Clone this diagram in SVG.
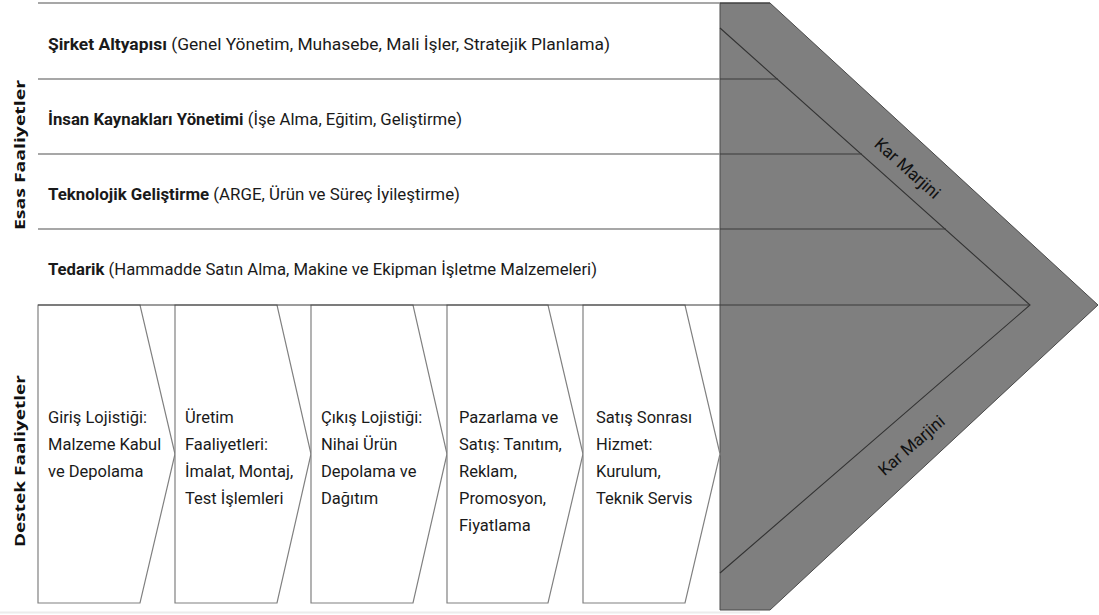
<svg xmlns="http://www.w3.org/2000/svg" width="1099" height="615" viewBox="0 0 1099 615">
  <style>
    .txt { font-family: Roboto, "Open Sans", "Liberation Sans", sans-serif; font-size: 17px; fill: #1a1a1a; }
    .step { font-family: Roboto, "Open Sans", "Liberation Sans", sans-serif; font-size: 16.5px; fill: #1a1a1a; }
    .b { font-weight: bold; }
    .side { font-family: "Open Sans", "DejaVu Sans", sans-serif; font-size: 15px; font-weight: bold; fill: #111; }
    .sep { stroke: #8a8a8a; stroke-width: 1.5; fill: none; }
    .sepd { stroke: #3a3a3a; stroke-width: 1.2; fill: none; }
    .chev { fill: #ffffff; stroke: #808080; stroke-width: 1.2; }
    .margin { fill: #7f7f7f; stroke: #4a4a4a; stroke-width: 1; }
    .inner { stroke: #333333; stroke-width: 1.1; fill: none; }
    .km { font-family: Roboto, "Open Sans", "Liberation Sans", sans-serif; font-size: 17px; fill: #111; }
  </style>

  <rect width="1099" height="615" fill="#ffffff"/>
  <!-- faint page edge under the figure -->
  <line x1="0" y1="612.5" x2="760" y2="612.5" stroke="#ececec" stroke-width="2"/>

  <!-- profit margin block -->
  <g id="kar-marjini">
    <polygon class="margin" points="720,3 770,3 1098,305 770,610 720,610"/>
    <polyline class="inner" points="720,28 1030,305 720,573"/>
    <text class="km" text-anchor="middle" transform="translate(907,169) rotate(41.8)" dy="5">Kar Marjini</text>
    <text class="km" text-anchor="middle" transform="translate(912,446) rotate(-40.8)" dy="5">Kar Marjini</text>
  </g>

  <!-- row separators -->
  <g id="connectors">
    <line class="sep" x1="38" y1="3" x2="720" y2="3"/>
    <line class="sepd" x1="720" y1="3" x2="770" y2="3"/>
    <line class="sep" x1="38" y1="79" x2="720" y2="79"/>
    <line class="sepd" x1="720" y1="79" x2="778" y2="79"/>
    <line class="sep" x1="38" y1="154" x2="720" y2="154"/>
    <line class="sepd" x1="720" y1="154" x2="862" y2="154"/>
    <line class="sep" x1="38" y1="229" x2="720" y2="229"/>
    <line class="sepd" x1="720" y1="229" x2="946" y2="229"/>
  </g>

  <!-- side labels -->
  <g id="esas-faaliyetler">
    <text class="side" text-anchor="middle" transform="translate(25,155) rotate(-90)" textLength="150" lengthAdjust="spacingAndGlyphs">Esas Faaliyetler</text>
  </g>
  <g id="destek-faaliyetler">
    <text class="side" text-anchor="middle" transform="translate(25,461) rotate(-90)" textLength="172" lengthAdjust="spacingAndGlyphs">Destek Faaliyetler</text>
  </g>

  <!-- activity rows -->
  <g id="sirket-altyapisi">
    <text class="txt" x="48" y="50" textLength="562" lengthAdjust="spacingAndGlyphs"><tspan class="b">Şirket Altyapısı</tspan> (Genel Yönetim, Muhasebe, Mali İşler, Stratejik Planlama)</text>
  </g>
  <g id="insan-kaynaklari">
    <text class="txt" x="48" y="125" textLength="414" lengthAdjust="spacingAndGlyphs"><tspan class="b">İnsan Kaynakları Yönetimi</tspan> (İşe Alma, Eğitim, Geliştirme)</text>
  </g>
  <g id="teknolojik-gelistirme">
    <text class="txt" x="48" y="200" textLength="412" lengthAdjust="spacingAndGlyphs"><tspan class="b">Teknolojik Geliştirme</tspan> (ARGE, Ürün ve Süreç İyileştirme)</text>
  </g>
  <g id="tedarik">
    <text class="txt" x="48" y="275" textLength="549" lengthAdjust="spacingAndGlyphs"><tspan class="b">Tedarik</tspan> (Hammadde Satın Alma, Makine ve Ekipman İşletme Malzemeleri)</text>
  </g>

  <!-- value chain steps -->
  <g id="giris-lojistigi">
    <polygon class="chev" points="38,305 140,305 175,454 140,603 38,603"/>
    <text class="step"><tspan x="48" y="423">Giriş Lojistiği:</tspan><tspan x="48" y="450">Malzeme Kabul</tspan><tspan x="48" y="477">ve Depolama</tspan></text>
  </g>
  <g id="uretim">
    <polygon class="chev" points="175,305 277,305 311,454 277,603 175,603"/>
    <text class="step"><tspan x="185" y="423">Üretim</tspan><tspan x="185" y="450">Faaliyetleri:</tspan><tspan x="185" y="477">İmalat, Montaj,</tspan><tspan x="185" y="504">Test İşlemleri</tspan></text>
  </g>
  <g id="cikis-lojistigi">
    <polygon class="chev" points="311,305 413,305 447,454 413,603 311,603"/>
    <text class="step"><tspan x="321" y="423">Çıkış Lojistiği:</tspan><tspan x="321" y="450">Nihai Ürün</tspan><tspan x="321" y="477">Depolama ve</tspan><tspan x="321" y="504">Dağıtım</tspan></text>
  </g>
  <g id="pazarlama-satis">
    <polygon class="chev" points="447,305 548,305 583,454 548,603 447,603"/>
    <text class="step"><tspan x="459" y="423">Pazarlama ve</tspan><tspan x="459" y="450">Satış: Tanıtım,</tspan><tspan x="459" y="477">Reklam,</tspan><tspan x="459" y="504">Promosyon,</tspan><tspan x="459" y="531">Fiyatlama</tspan></text>
  </g>
  <g id="satis-sonrasi">
    <polygon class="chev" points="583,305 685,305 720,454 685,603 583,603"/>
    <text class="step"><tspan x="596" y="423">Satış Sonrası</tspan><tspan x="596" y="450">Hizmet:</tspan><tspan x="596" y="477">Kurulum,</tspan><tspan x="596" y="504">Teknik Servis</tspan></text>
  </g>

  <!-- dividing line between support rows and primary steps -->
  <line class="sepd" x1="38" y1="305" x2="1030" y2="305" stroke="#2a2a2a"/>
</svg>
